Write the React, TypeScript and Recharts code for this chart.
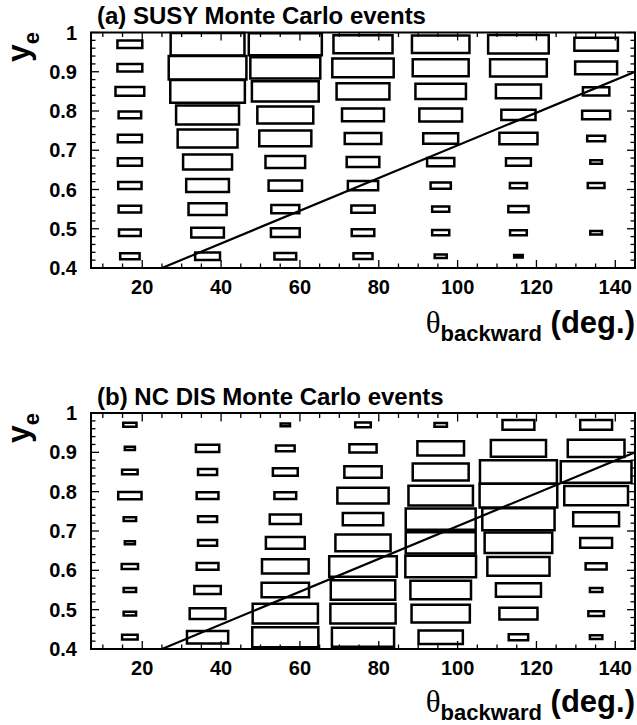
import React from 'react';
import { ComposedChart, XAxis, YAxis, ReferenceArea, Line } from 'recharts';

// ---- data ----
const thetaBinCenters = [16.86, 36.57, 56.29, 76.0, 95.71, 115.43, 135.14];
const thetaBinWidth = 19.71;
const yeBinCenters = [0.97, 0.91, 0.85, 0.79, 0.73, 0.67, 0.61, 0.55, 0.49, 0.43];
const yeBinHeight = 0.06;

// relative box size (side fraction of the bin), rows top (0.97) -> bottom (0.43)
const susySizes = [
  [0.32, 0.95, 0.94, 0.76, 0.74, 0.78, 0.56],
  [0.32, 1.0, 0.9, 0.79, 0.72, 0.73, 0.54],
  [0.37, 0.96, 0.86, 0.68, 0.65, 0.58, 0.34],
  [0.29, 0.81, 0.72, 0.54, 0.55, 0.44, 0.36],
  [0.31, 0.77, 0.67, 0.47, 0.45, 0.49, 0.23],
  [0.31, 0.63, 0.51, 0.42, 0.35, 0.32, 0.15],
  [0.3, 0.55, 0.43, 0.39, 0.26, 0.22, 0.215],
  [0.29, 0.49, 0.36, 0.3, 0.22, 0.26, 0],
  [0.28, 0.42, 0.37, 0.29, 0.22, 0.215, 0.15],
  [0.25, 0.32, 0.28, 0.245, 0.155, 0.11, 0],
];

const ncdisSizes = [
  [0.17, 0, 0.12, 0.2, 0.16, 0.41, 0.41],
  [0.13, 0.3, 0.24, 0.35, 0.6, 0.71, 0.73],
  [0.2, 0.245, 0.32, 0.48, 0.72, 0.99, 0.91],
  [0.3, 0.28, 0.28, 0.66, 0.83, 1.0, 0.82],
  [0.16, 0.245, 0.4, 0.52, 0.9, 0.93, 0.59],
  [0.13, 0.245, 0.5, 0.71, 0.9, 0.87, 0.41],
  [0.21, 0.28, 0.6, 0.87, 0.91, 0.8, 0.27],
  [0.16, 0.34, 0.61, 0.83, 0.78, 0.58, 0.16],
  [0.16, 0.46, 0.84, 0.84, 0.75, 0.49, 0.2],
  [0.2, 0.53, 0.85, 0.8, 0.57, 0.25, 0.16],
];

const cutLine = [
  { theta: 25, ye: 0.4 },
  { theta: 145, ye: 0.9 },
];

const xDomain: [number, number] = [7, 145];
const yDomain: [number, number] = [0.4, 1.0];
const xTicks = [10, 15, 20, 25, 30, 35, 40, 45, 50, 55, 60, 65, 70, 75, 80, 85, 90, 95, 100, 105, 110, 115, 120, 125, 130, 135, 140];
const yTicks = [0.4, 0.42, 0.44, 0.46, 0.48, 0.5, 0.52, 0.54, 0.56, 0.58, 0.6, 0.62, 0.64, 0.66, 0.68, 0.7, 0.72, 0.74, 0.76, 0.78, 0.8, 0.82, 0.84, 0.86, 0.88, 0.9, 0.92, 0.94, 0.96, 0.98, 1.0];

const titleA = '(a) SUSY Monte Carlo events';
const titleB = '(b) NC DIS Monte Carlo events';

const FONT = '"Liberation Sans", Arial, Helvetica, sans-serif';
const W = 637;
const PLOT_LEFT = 91;
const PLOT_RIGHT = 635;
const PLOT_W = PLOT_RIGHT - PLOT_LEFT;
const PLOT_H = 235.5;
const LABEL_SIZE = 20;

function buildBoxes(sizes: number[][]) {
  const out: { key: string; x1: number; x2: number; y1: number; y2: number }[] = [];
  sizes.forEach((row, i) => {
    row.forEach((s, j) => {
      if (s > 0) {
        const cx = thetaBinCenters[j];
        const cy = yeBinCenters[i];
        out.push({
          key: `${i}-${j}`,
          x1: cx - (s * thetaBinWidth) / 2,
          x2: cx + (s * thetaBinWidth) / 2,
          y1: cy - (s * yeBinHeight) / 2,
          y2: cy + (s * yeBinHeight) / 2,
        });
      }
    });
  });
  return out;
}

const renderXTick = (props: any) => {
  const { x, y, payload } = props;
  const v = payload.value;
  const major = v % 20 === 0;
  const len = major ? 8 : 4.5;
  return (
    <g>
      <line x1={x} x2={x} y1={y} y2={y - len} stroke="#000" strokeWidth={1.3} />
      <line x1={x} x2={x} y1={y - PLOT_H} y2={y - PLOT_H + len} stroke="#000" strokeWidth={1.3} />
      {major && (
        <text x={x} y={y + 26} textAnchor="middle" fontFamily={FONT} fontWeight="bold" fontSize={LABEL_SIZE} fill="#000">
          {v}
        </text>
      )}
    </g>
  );
};

const renderYTick = (props: any) => {
  const { x, y, payload } = props;
  const v = payload.value;
  const major = Math.round(v * 50) % 5 === 0;
  const len = major ? 8 : 4.5;
  return (
    <g>
      <line x1={x} x2={x + len} y1={y} y2={y} stroke="#000" strokeWidth={1.3} />
      <line x1={x + PLOT_W} x2={x + PLOT_W - len} y1={y} y2={y} stroke="#000" strokeWidth={1.3} />
      {major && (
        <text x={x - 14} y={y + 7} textAnchor="end" fontFamily={FONT} fontWeight="bold" fontSize={LABEL_SIZE} fill="#000">
          {Math.abs(v - 1) < 1e-9 ? '1' : v.toFixed(1)}
        </text>
      )}
    </g>
  );
};

function Panel({ sizes, height, top, bottomSpace }: { sizes: number[][]; height: number; top: number; bottomSpace: number }) {
  const boxes = buildBoxes(sizes);
  return (
    <ComposedChart
      width={W}
      height={height}
      data={cutLine}
      margin={{ top, right: W - PLOT_RIGHT, bottom: 0, left: 0 }}
    >
      <XAxis
        dataKey="theta"
        type="number"
        domain={xDomain}
        ticks={xTicks}
        interval={0}
        allowDataOverflow
        tickSize={0}
        tickMargin={0}
        axisLine={false}
        tickLine={false}
        height={bottomSpace}
        tick={renderXTick}
      />
      <YAxis
        dataKey="ye"
        type="number"
        domain={yDomain}
        ticks={yTicks}
        interval={0}
        allowDataOverflow
        tickSize={0}
        tickMargin={0}
        axisLine={false}
        tickLine={false}
        width={PLOT_LEFT}
        tick={renderYTick}
      />
      {boxes.map((b) => (
        <ReferenceArea
          key={b.key}
          x1={b.x1}
          x2={b.x2}
          y1={b.y1}
          y2={b.y2}
          fill="none"
          stroke="#000"
          strokeWidth={2.5}
          ifOverflow="visible"
        />
      ))}
      <ReferenceArea
        x1={xDomain[0]}
        x2={xDomain[1]}
        y1={yDomain[0]}
        y2={yDomain[1]}
        fill="none"
        stroke="#000"
        strokeWidth={2}
        ifOverflow="visible"
      />
      <Line
        dataKey="ye"
        type="linear"
        stroke="#000"
        strokeWidth={2.2}
        dot={false}
        activeDot={false}
        isAnimationActive={false}
      />
    </ComposedChart>
  );
}

function AxisTitles({ title, titleY, frameTop, xTitleY }: { title: string; titleY: number; frameTop: number; xTitleY: number }) {
  return (
    <g fontFamily={FONT} fill="#000">
      <text x={97} y={titleY} fontSize={24} fontWeight="bold">
        {title}
      </text>
      <text transform={`translate(29, ${frameTop}) rotate(-90)`} textAnchor="end" fontSize={32} fontWeight="bold">
        y
        <tspan fontSize={22} dy={10}>
          e
        </tspan>
      </text>
      <text x={PLOT_RIGHT} y={xTitleY} textAnchor="end" fontWeight="bold" fontSize={31}>
        <tspan fontFamily='"Liberation Serif", "DejaVu Serif", serif' fontWeight="normal">
          θ
        </tspan>
        <tspan fontSize={22} dy={8}>
          backward
        </tspan>
        <tspan dy={-8}> (deg.)</tspan>
      </text>
    </g>
  );
}

export default function App() {
  return (
    <div style={{ position: 'absolute', left: 0, top: 0, width: W, height: 725, background: '#fff' }}>
      <div style={{ position: 'absolute', left: 0, top: 0 }}>
        <Panel sizes={susySizes} height={362} top={32.5} bottomSpace={362 - 268} />
      </div>
      <div style={{ position: 'absolute', left: 0, top: 362 }}>
        <Panel sizes={ncdisSizes} height={363} top={413 - 362} bottomSpace={725 - 649} />
      </div>
      <svg width={W} height={725} style={{ position: 'absolute', left: 0, top: 0, pointerEvents: 'none' }}>
        <AxisTitles title={titleA} titleY={24} frameTop={32} xTitleY={333} />
        <AxisTitles title={titleB} titleY={405} frameTop={413} xTitleY={712} />
      </svg>
    </div>
  );
}
